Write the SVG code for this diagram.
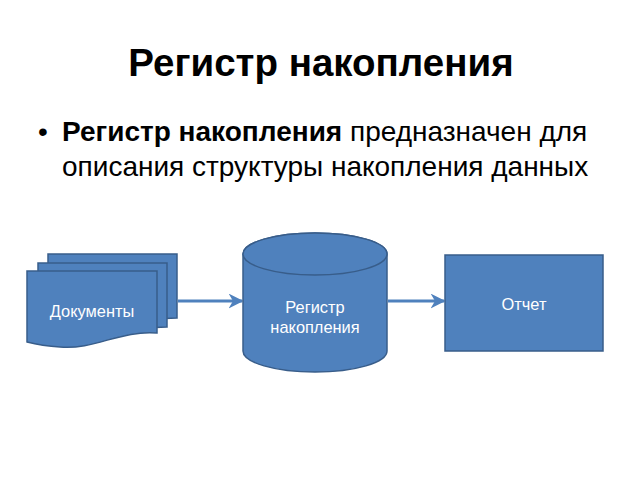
<svg xmlns="http://www.w3.org/2000/svg" width="640" height="480" viewBox="0 0 640 480">
<defs>
<style>
.shape{fill:#4f81bd;stroke:#385d8a;stroke-width:1.5}
.lbl{font-family:"Liberation Sans",Arial,sans-serif;font-size:16.4px;fill:#ffffff;text-anchor:middle}
.conn{stroke:#4f81bd;stroke-width:3;fill:none}
.t{font-family:"Liberation Sans",Arial,sans-serif;fill:#000000}
</style>
<marker id="ah" viewBox="0 0 10 10" refX="9" refY="5" markerWidth="5" markerHeight="5" orient="auto" markerUnits="strokeWidth">
<path d="M0,0 L10,5 L0,10 L3,5 Z" fill="#4f81bd"/>
</marker>
</defs>
<rect width="640" height="480" fill="#ffffff"/>
<text class="t" x="321" y="76" font-size="38.5" font-weight="bold" text-anchor="middle">Регистр накопления</text>
<text class="t" x="38" y="141" font-size="28">•</text>
<text class="t" x="62" y="141" font-size="28"><tspan font-weight="bold">Регистр накопления</tspan> предназначен для</text>
<text class="t" x="62" y="176" font-size="28">описания структуры накопления данных</text>
<g id="connectors">
<line class="conn" x1="178" y1="301" x2="242" y2="301" marker-end="url(#ah)"/>
<line class="conn" x1="388" y1="301" x2="444" y2="301" marker-end="url(#ah)"/>
</g>
<g id="documents">
<path class="shape" d="M48,254 H177 V318 C150,318 120,325 48,322 Z"/>
<path class="shape" d="M38,263 H167 V327 C140,327 110,334 38,331 Z"/>
<path class="shape" d="M27,271 H157 V333 C120,330 95,350 60,347 C45,346 35,344 27,342 Z"/>
<text class="lbl" x="92" y="317">Документы</text>
</g>
<g id="register">
<path class="shape" d="M243,254 V351 A72,21 0 0 0 387,351 V254 A72,21 0 0 0 243,254 Z"/>
<ellipse class="shape" cx="315" cy="254" rx="72" ry="21"/>
<text class="lbl" x="315" y="313">Регистр</text>
<text class="lbl" x="315" y="333">накопления</text>
</g>
<g id="report">
<rect class="shape" x="445" y="255" width="158" height="96"/>
<text class="lbl" x="524" y="310">Отчет</text>
</g>
</svg>
